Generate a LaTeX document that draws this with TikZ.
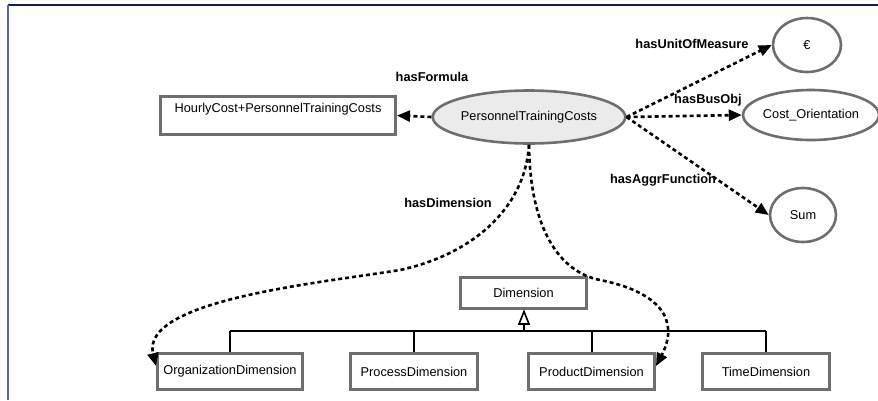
\documentclass[tikz,border=0pt]{standalone}
\usepackage{fontspec}
\setmainfont{Liberation Sans}
\usetikzlibrary{arrows.meta,shapes.geometric}
\definecolor{bordergray}{HTML}{6E6E6E}
\definecolor{fillgray}{HTML}{EBEBEB}
\definecolor{framenavy}{HTML}{141A55}
\definecolor{frameblue}{HTML}{5A68A0}
\begin{document}
\begin{tikzpicture}[x=1pt,y=-1pt,
  every node/.style={font=\fontsize{12.8}{14}\selectfont},
  classbox/.style={draw=bordergray,line width=3pt,rectangle,inner sep=0pt,fill=white},
  indiv/.style={draw=bordergray,line width=2.6pt,ellipse,inner sep=0pt},
  rel/.style={dashed,dash pattern=on 4pt off 3pt,line width=2.6pt,-{Triangle[length=13pt,width=11pt]}},
  rellabel/.style={font=\bfseries\fontsize{12.8}{14}\selectfont},
  isa/.style={line width=2pt,black}
]
\useasboundingbox (0,0) rectangle (878,400);
\fill[white] (0,0) rectangle (878,400);
% frame
\draw[framenavy,line width=1.6pt] (8,5) -- (878,5);
\draw[frameblue,line width=2.2pt] (8,5) -- (8,400);

% nodes
\node[indiv,fill=fillgray,minimum width=167pt,minimum height=53pt] (ptc) at (529,117) {PersonnelTrainingCosts};
\node[classbox,minimum width=235pt,minimum height=38pt,text height=9.5pt,text depth=15.3pt] (formula) at (278,115.5) {HourlyCost+PersonnelTrainingCosts};
\node[indiv,minimum width=68pt,minimum height=54pt] (euro) at (807,45) {€};
\node[indiv,minimum width=121pt,minimum height=50pt] (co) at (811,115) {Cost\_Orientation};
\node[indiv,minimum width=66pt,minimum height=54pt] (sum) at (803,215) {Sum};

\node[classbox,minimum width=126pt,minimum height=31pt] (dim) at (523.5,293) {Dimension};
\node[classbox,minimum width=145pt,minimum height=36pt] (org) at (230,371.5) {OrganizationDimension};
\node[classbox,minimum width=127pt,minimum height=36pt] (proc) at (414,371.5) {ProcessDimension};
\node[classbox,minimum width=126pt,minimum height=36pt] (prod) at (591.5,371.5) {ProductDimension};
\node[classbox,minimum width=127pt,minimum height=36pt] (time) at (766,371.5) {TimeDimension};

% hierarchy
\coordinate (tip) at (524,311.5);
\coordinate (base) at (524,324);
\coordinate (bus) at (524,331);
\draw[isa] (base) -- (bus);
\draw[isa] (org.north |- bus) -- (time.north |- bus);
\draw[isa] (org.north |- bus) -- (org.north);
\draw[isa] (proc.north |- bus) -- (proc.north);
\draw[isa] (prod.north |- bus) -- (prod.north);
\draw[isa] (time.north |- bus) -- (time.north);
\draw[line width=1.6pt,fill=white] (tip) -- (519,324) -- (529,324) -- cycle;

% relations
\draw[rel] (ptc.west) -- (formula.east);
\draw[rel] (ptc.east) -- (euro.west);
\draw[rel] (ptc.east) -- (co.west);
\draw[rel] (ptc.east) -- (sum.west);
\draw[rel] (ptc.south) .. controls (525,210) and (470,255) .. (400,270)
   .. controls (320,283) and (140,300) .. (org.west |- 0,366);
\draw[rel] (ptc.south) .. controls (530,230) and (560,272) .. (600,280)
   .. controls (660,292) and (680,320) .. (prod.east |- 0,366);

% labels
\node[rellabel] (lformula) at (432,77) {hasFormula};
\node[rellabel] (lunit) at (692,44) {hasUnitOfMeasure};
\node[rellabel] (lbus) at (708,100) {hasBusObj};
\node[rellabel] (laggr) at (663,180) {hasAggrFunction};
\node[rellabel] (ldim) at (448,203) {hasDimension};
\end{tikzpicture}
\end{document}
